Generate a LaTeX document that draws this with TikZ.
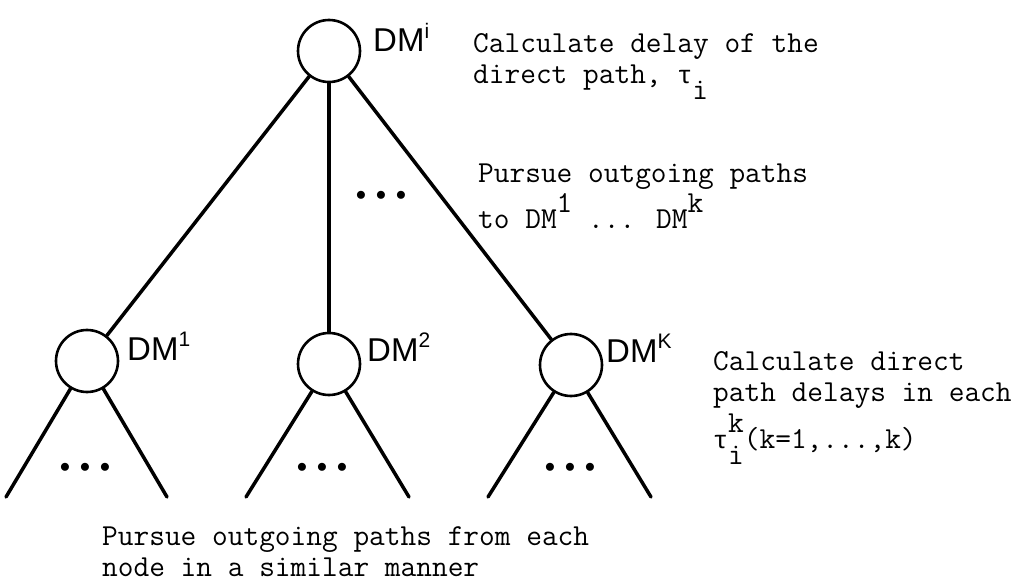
\documentclass[tikz,border=0pt]{standalone}
\usepackage{fontspec}
\newfontfamily\dmfont{Liberation Sans}
\newfontfamily\taufont{Liberation Mono}
\usetikzlibrary{positioning}

\newcommand{\sups}[1]{\smash{\raisebox{16pt}{#1}}}
\newcommand{\subs}[1]{\smash{\raisebox{-16pt}{#1}}}
\newcommand{\dmsup}[1]{\raisebox{0.42em}{\fontsize{21}{21}\selectfont #1}}
\newcommand{\tauch}{{\taufont\fontsize{25}{25}\selectfont τ}}

\begin{document}
\begin{tikzpicture}[x=1pt, y=-1pt,
  dm/.style={draw, circle, line width=2.6pt, minimum size=62pt, inner sep=0pt},
  branch/.style={line width=3.5pt, line cap=round},
  dmlabel/.style={font=\dmfont\fontsize{33}{33}\selectfont, inner sep=0pt, anchor=base west},
  note/.style={font=\ttfamily\fontsize{30.5}{31}\selectfont, align=left, inner sep=0pt, anchor=base west},
  dots/.style={font=\fontsize{22}{22}\selectfont, inner sep=0pt}
]
  \useasboundingbox (0,0) rectangle (1021,583);

  % decision makers
  \node[dm] (top) at (329,51) {};
  \node[dm] (c1) at (87,361) {};
  \node[dm] (c2) at (329,364) {};
  \node[dm] (ck) at (571,365) {};

  \node[dmlabel] (topl) at (373,52) {DM\dmsup{i}};
  \node[dmlabel] (c1l) at (127,360) {DM\dmsup{1}};
  \node[dmlabel] (c2l) at (367,361) {DM\dmsup{2}};
  \node[dmlabel] (ckl) at (606,362) {DM\dmsup{K}};

  \draw[branch] (top) -- (c1);
  \draw[branch] (top) -- (c2);
  \draw[branch] (top) -- (ck);
  \node[dots] (topdots) at (381,196) {$\bullet\hspace{5pt}\bullet\hspace{5pt}\bullet$};

  % sub-trees
  \coordinate (c1a) at (6,497);   \coordinate (c1b) at (167,497);
  \coordinate (c2a) at (246,497); \coordinate (c2b) at (409,497);
  \coordinate (cka) at (488,497); \coordinate (ckb) at (651,497);
  \foreach \c in {c1,c2,ck} {
    \draw[branch] (\c) -- (\c a);
    \draw[branch] (\c) -- (\c b);
  }
  \node[dots] (c1dots) at (85,468) {$\bullet\hspace{5pt}\bullet\hspace{5pt}\bullet$};
  \node[dots] (c2dots) at (322,468) {$\bullet\hspace{5pt}\bullet\hspace{5pt}\bullet$};
  \node[dots] (ckdots) at (570,468) {$\bullet\hspace{5pt}\bullet\hspace{5pt}\bullet$};

  % notes (placed by the baseline of their last line)
  \node[note] (delaynote) at (473,84) {Calculate delay of the\\direct path, \tauch\subs{i}};
  \node[note] (pursuenote) at (478,229) {Pursue outgoing paths\\[16pt]to DM\sups{1} ... DM\sups{k}};
  \node[note] (eachnote) at (713,448) {Calculate direct\\path delays in each\\[16pt]\tauch\rlap{\sups{k}}\subs{i}(k=1,...,k)};
  \node[note] (similarnote) at (102,576) {Pursue outgoing paths from each\\node in a similar manner};
\end{tikzpicture}
\end{document}
